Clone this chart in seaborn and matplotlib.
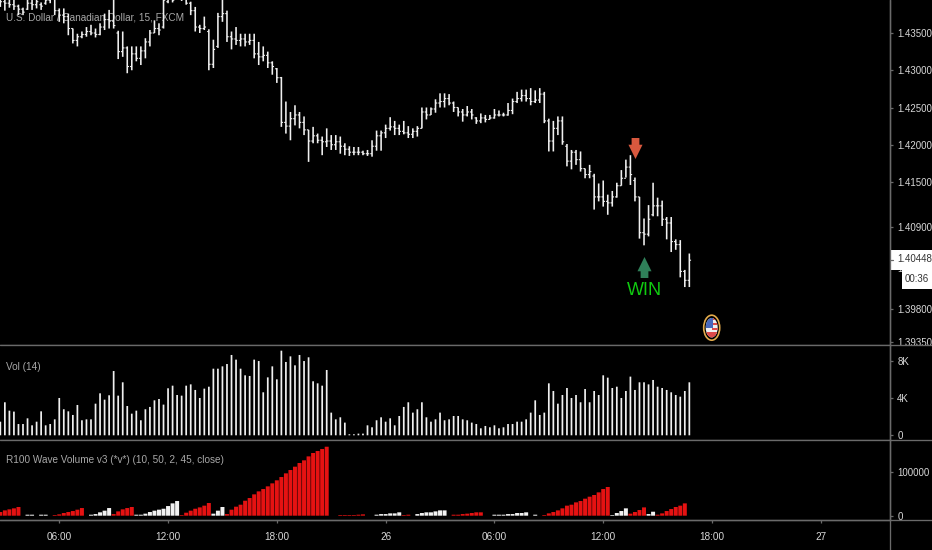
import numpy as np
import pandas as pd
import matplotlib
matplotlib.use("Agg")
import matplotlib.pyplot as plt
from matplotlib.patches import Ellipse, Rectangle
import seaborn as sns

# 15 min bars, clipped highs at the top of the picture are given as 1.4400
high = [1.4400,1.4400,1.4400,1.4400,1.4388,1.4384,1.4400,1.4400,1.4400,1.4391,1.4400,1.4400,1.4400,1.4383,1.4383,1.4376,1.4356,1.4349,1.4352,1.4358,
        1.4361,1.4356,1.4363,1.4376,1.4381,1.4400,1.4353,1.4352,1.4332,1.4332,1.4332,1.4332,1.4343,1.4354,1.4367,1.4363,1.4400,1.4400,1.4400,1.4400,
        1.4400,1.4400,1.4392,1.4385,1.4361,1.4372,1.4355,1.4341,1.4377,1.4400,1.4380,1.4352,1.4358,1.4349,1.4349,1.4349,1.4349,1.4338,1.4332,1.4325,
        1.4312,1.4303,1.4291,1.4258,1.4244,1.4253,1.4244,1.4238,1.4220,1.4224,1.4215,1.4211,1.4222,1.4213,1.4213,1.4211,1.4202,1.4198,1.4197,1.4197,
        1.4192,1.4193,1.4206,1.4219,1.4219,1.4227,1.4237,1.4232,1.4227,1.4232,1.4225,1.4222,1.4225,1.4250,1.4250,1.4250,1.4261,1.4269,1.4269,1.4268,
        1.4258,1.4250,1.4248,1.4252,1.4248,1.4237,1.4242,1.4240,1.4240,1.4248,1.4246,1.4243,1.4256,1.4262,1.4271,1.4274,1.4274,1.4276,1.4273,1.4276,
        1.4271,1.4235,1.4232,1.4238,1.4238,1.4201,1.4193,1.4193,1.4191,1.4168,1.4173,1.4161,1.4148,1.4152,1.4133,1.4138,1.4149,1.4166,1.4180,1.4186,
        1.4156,1.4130,1.4101,1.4119,1.4149,1.4129,1.4125,1.4103,1.4103,1.4073,1.4072,1.4032,1.4054]
low = [1.4385,1.4380,1.4384,1.4381,1.4374,1.4374,1.4381,1.4381,1.4383,1.4381,1.4388,1.4390,1.4374,1.4365,1.4363,1.4347,1.4336,1.4332,1.4343,1.4345,
       1.4347,1.4344,1.4347,1.4354,1.4356,1.4356,1.4315,1.4318,1.4296,1.4300,1.4312,1.4307,1.4316,1.4332,1.4350,1.4347,1.4356,1.4390,1.4391,1.4396,
       1.4393,1.4388,1.4374,1.4352,1.4350,1.4354,1.4300,1.4303,1.4330,1.4365,1.4338,1.4328,1.4334,1.4332,1.4332,1.4334,1.4316,1.4307,1.4312,1.4303,
       1.4294,1.4283,1.4224,1.4215,1.4206,1.4226,1.4222,1.4213,1.4177,1.4202,1.4202,1.4186,1.4197,1.4193,1.4193,1.4188,1.4186,1.4185,1.4186,1.4186,
       1.4186,1.4185,1.4184,1.4192,1.4192,1.4209,1.4219,1.4213,1.4213,1.4214,1.4209,1.4209,1.4211,1.4222,1.4234,1.4240,1.4243,1.4250,1.4250,1.4253,
       1.4244,1.4238,1.4231,1.4238,1.4234,1.4228,1.4229,1.4230,1.4234,1.4235,1.4238,1.4238,1.4239,1.4241,1.4256,1.4258,1.4258,1.4253,1.4256,1.4256,
       1.4229,1.4191,1.4191,1.4213,1.4200,1.4171,1.4167,1.4173,1.4164,1.4155,1.4155,1.4113,1.4124,1.4117,1.4106,1.4117,1.4129,1.4145,1.4156,1.4146,
       1.4124,1.4074,1.4065,1.4077,1.4104,1.4104,1.4091,1.4073,1.4056,1.4059,1.4022,1.4009,1.4009]
close = [1.4392,1.4390,1.4388,1.4386,1.4382,1.4378,1.4390,1.4388,1.4392,1.4386,1.4394,1.4396,1.4380,1.4374,1.4372,1.4356,1.4340,1.4345,1.4348,1.4352,
         1.4350,1.4348,1.4358,1.4368,1.4366,1.4360,1.4325,1.4330,1.4305,1.4322,1.4316,1.4326,1.4338,1.4350,1.4356,1.4354,1.4394,1.4396,1.4394,1.4398,
         1.4396,1.4390,1.4380,1.4358,1.4356,1.4358,1.4308,1.4328,1.4372,1.4376,1.4345,1.4342,1.4340,1.4342,1.4338,1.4340,1.4322,1.4318,1.4320,1.4310,
         1.4305,1.4290,1.4230,1.4225,1.4235,1.4240,1.4230,1.4220,1.4205,1.4212,1.4206,1.4204,1.4205,1.4200,1.4204,1.4198,1.4194,1.4190,1.4190,1.4190,
         1.4188,1.4188,1.4198,1.4212,1.4216,1.4222,1.4224,1.4222,1.4218,1.4216,1.4214,1.4218,1.4222,1.4244,1.4240,1.4248,1.4256,1.4258,1.4262,1.4256,
         1.4250,1.4244,1.4240,1.4244,1.4240,1.4232,1.4236,1.4234,1.4236,1.4240,1.4240,1.4240,1.4246,1.4258,1.4262,1.4266,1.4262,1.4258,1.4260,1.4268,
         1.4232,1.4205,1.4222,1.4232,1.4204,1.4178,1.4190,1.4180,1.4168,1.4160,1.4164,1.4130,1.4130,1.4124,1.4122,1.4130,1.4145,1.4155,1.4170,1.4160,
         1.4130,1.4082,1.4080,1.4100,1.4118,1.4118,1.4100,1.4095,1.4070,1.4066,1.4030,1.4018,1.4045]
opens = [1.4390,1.4392,1.4390,1.4388,1.4386,1.4382,1.4382,1.4390,1.4388,1.4388,1.4390,1.4394,1.4396,1.4380,1.4374,1.4372,1.4356,1.4340,1.4345,1.4348,
         1.4352,1.4350,1.4348,1.4358,1.4368,1.4366,1.4350,1.4325,1.4330,1.4305,1.4322,1.4316,1.4326,1.4338,1.4350,1.4356,1.4358,1.4392,1.4396,1.4397,
         1.4398,1.4396,1.4390,1.4380,1.4358,1.4356,1.4352,1.4308,1.4332,1.4372,1.4376,1.4345,1.4342,1.4340,1.4342,1.4338,1.4340,1.4322,1.4318,1.4320,
         1.4310,1.4302,1.4290,1.4230,1.4225,1.4235,1.4240,1.4230,1.4220,1.4205,1.4212,1.4206,1.4204,1.4205,1.4200,1.4204,1.4198,1.4194,1.4190,1.4190,
         1.4190,1.4188,1.4188,1.4198,1.4212,1.4216,1.4222,1.4224,1.4222,1.4218,1.4216,1.4214,1.4218,1.4222,1.4244,1.4240,1.4248,1.4256,1.4258,1.4262,
         1.4256,1.4250,1.4244,1.4240,1.4244,1.4236,1.4232,1.4236,1.4234,1.4236,1.4240,1.4240,1.4240,1.4246,1.4258,1.4262,1.4266,1.4262,1.4258,1.4260,
         1.4268,1.4232,1.4205,1.4222,1.4232,1.4198,1.4178,1.4190,1.4180,1.4168,1.4160,1.4158,1.4130,1.4130,1.4124,1.4122,1.4130,1.4145,1.4155,1.4170,
         1.4152,1.4130,1.4082,1.4080,1.4106,1.4118,1.4118,1.4100,1.4095,1.4070,1.4066,1.4030,1.4018]

# volume in thousands
volume = [1.46,3.54,2.64,2.54,1.21,1.21,1.82,1.07,1.46,2.57,1.07,1.21,1.71,4.0,2.79,2.57,2.18,3.25,1.61,1.71,
          1.71,3.39,4.5,3.82,4.29,6.89,4.25,5.68,3.14,2.32,2.64,1.61,2.79,3.04,3.75,3.89,3.29,5.04,5.32,4.32,
          4.25,5.32,5.46,4.86,4.0,5.0,5.21,7.14,7.14,7.39,7.64,8.61,8.11,7.14,6.43,6.36,8.11,7.96,4.61,6.21,
          7.39,6.0,9.07,7.86,8.46,7.5,8.61,7.96,8.36,5.79,5.57,5.32,7.0,2.43,1.71,1.93,1.36,0.11,
          0.11,0.18,0.18,1.07,0.86,1.61,1.93,1.46,1.82,1.07,2.07,3.04,3.54,2.43,2.79,3.54,1.93,1.46,1.71,2.43,
          1.61,1.71,2.07,2.07,1.71,1.61,1.36,1.21,0.75,1.0,0.86,1.07,0.75,0.86,1.21,1.21,1.46,1.46,1.71,2.43,
          3.75,2.18,2.43,5.57,4.75,3.39,4.32,5.07,4.0,4.32,3.54,4.96,3.54,4.75,4.32,6.43,6.18,5.07,5.21,4.0,
          4.75,6.29,4.86,5.68,5.68,5.46,5.93,5.21,5.07,4.86,4.61,4.32,4.14,4.75,5.68]

# wave volume in thousands, negative = down wave (red)
wave = [-8.5,-12.3,-14.7,-17.0,-20.1,0,2.3,2.3,0,2.3,2.3,0,-1.6,-3.1,-6.2,-8.5,-10.8,-13.9,-17.7,0,
        2.3,3.8,7.8,11.6,17.7,-3.8,-10.0,-14.7,-17.7,-20.1,2.3,2.3,4.7,8.5,11.6,13.9,16.1,22.3,28.5,33.9,
        -1.6,-6.9,-11.6,-16.1,-19.2,-23.2,-29.3,4.7,11.6,20.1,-3.8,-13.9,-20.8,-25.4,-34.6,-40.8,-49.3,-56.2,-61.6,-67.8,
        -74.7,-81.7,-89.3,-97.8,-105.5,-113.2,-121.7,-127.9,-137.0,-144.8,-149.4,-154.0,-159.3,0,0,-1.6,-1.6,-1.6,
        -1.6,-2.3,-3.1,0,0,2.3,3.8,3.8,5.4,5.4,7.8,-1.6,-2.3,0,3.8,6.2,7.8,7.8,10.0,12.3,12.3,0,
        -2.3,-2.3,-3.8,-4.7,-6.2,-7.8,-7.8,0,0,2.3,2.3,2.3,3.8,3.8,6.2,6.2,7.8,0,2.3,0,
        -1.6,-5.4,-8.5,-12.3,-17.0,-23.2,-25.4,-30.8,-33.9,-39.3,-43.9,-47.8,-53.9,-61.6,-66.3,1.6,6.2,10.8,17.0,-4.7,
        -8.5,-13.1,-19.2,3.8,9.2,-2.3,-5.4,-10.8,-15.4,-20.1,-23.2,-28.5,0]

price_ticks = [1.435, 1.430, 1.425, 1.420, 1.415, 1.409, 1.4035, 1.398, 1.3935]
time_ticks = [13, 37, 61, 85, 109, 133, 157, 181]
time_labels = ["06:00", "12:00", "18:00", "26", "06:00", "12:00", "18:00", "27"]
last_price = "1.40448"
countdown = "00:36"

W, H = 932, 550
LINE = "#6a6a6a"
TEXT = "#d8d8d8"
LEGEND = "#a8a8a8"
BAR = "#f0f0f0"

sns.set_theme(style="dark", rc={"figure.facecolor": "black", "axes.facecolor": "black",
                                "axes.edgecolor": LINE, "axes.linewidth": 1.0,
                                "xtick.color": LINE, "ytick.color": LINE,
                                "xtick.bottom": True, "ytick.right": True, "ytick.left": False})
plt.rcParams["font.family"] = ["Liberation Sans"]


def panel(top, bottom):
    # axes from pixel rows of the picture
    return fig.add_axes([0, 1 - bottom / H, 890 / W, (bottom - top) / H])


fig = plt.figure(figsize=(W / 100, H / 100), dpi=100)
ax_price = panel(0, 344.5)
ax_vol = panel(344.5, 439.7)
ax_wave = panel(439.7, 520)

bars = np.arange(len(close))
stems = ax_price.vlines(bars, low, high, color=BAR, lw=1.15, zorder=3)
left = ax_price.hlines(opens, bars - 0.38, bars, color=BAR, lw=0.8, zorder=3)
right = ax_price.hlines(close, bars, bars + 0.38, color=BAR, lw=0.8, zorder=3)
for c in (stems, left, right):
    c.set_snap(False)

# signal arrows
arrow = [(-0.37, 1), (0.37, 1), (0.37, 0.36), (0.67, 0.36), (0, -1), (-0.67, 0.36), (-0.37, 0.36)]
arrow_up = [(x, -y) for x, y in arrow]
ax_price.scatter([140], [1.4196], marker=arrow, s=229, color="#d8583e", linewidths=0, zorder=4)
ax_price.scatter([142], [1.4036], marker=arrow_up, s=229, color="#2f8059", linewidths=0, zorder=4)
ax_price.text(142, 1.4004, "WIN", color="#10cc10", fontsize=13, ha="center", va="center", zorder=4)
ax_price.text(0.0065, 0.948, "U.S. Dollar / Canadian Dollar, 15, FXCM", color=LEGEND, fontsize=7.2,
              va="center", transform=ax_price.transAxes, zorder=1)

sns.barplot(x=bars, y=volume, native_scale=True, width=0.38, color=BAR, saturation=1, linewidth=0, ax=ax_vol)
ax_vol.text(0.0065, 0.765, "Vol (14)", color=LEGEND, fontsize=7.2, va="center", transform=ax_vol.transAxes)

wave_df = pd.DataFrame({"bar": bars, "size": np.abs(wave),
                        "side": ["down" if v < 0 else "up" for v in wave]})
sns.barplot(data=wave_df, x="bar", y="size", hue="side", dodge=False, native_scale=True, width=0.88,
            palette={"down": "#e51212", "up": "#f2f2f2"}, saturation=1, linewidth=0, legend=False, ax=ax_wave)
ax_wave.text(0.0065, 0.75, "R100 Wave Volume v3 (*v*) (10, 50, 2, 45, close)", color=LEGEND, fontsize=7.2,
             va="center", transform=ax_wave.transAxes)

x_left = -0.33 / 4.533
x_right = (890 - 0.33) / 4.533
for ax in (ax_price, ax_vol, ax_wave):
    for p in ax.patches:
        p.set_snap(False)
    ax.set_xlim(x_left, x_right)
    ax.set_xlabel("")
    ax.set_ylabel("")
    ax.grid(False)
    ax.spines["left"].set_visible(False)
    ax.spines["top"].set_visible(False)
    ax.yaxis.tick_right()
    ax.tick_params(axis="y", length=2.2, width=0.9, color=LINE, labelcolor=TEXT, labelsize=7, pad=3)
    ax.tick_params(axis="x", bottom=False, labelbottom=False)

ax_price.set_ylim(1.435 - (344.5 - 33) / 7450, 1.435 + 33 / 7450)
ax_price.set_yticks(price_ticks)
ax_price.set_yticklabels([f"{t:.5f}" for t in price_ticks])
# the lowest price label is cut by the panel edge
for lab in ax_price.get_yticklabels():
    lab.set_clip_on(True)
    lab.set_clip_path(Rectangle((880, H - 344.5), 60, 344.5, transform=None))

ax_vol.set_ylim(-4.4 / 9.33, (435.3 - 344.5) / 9.33)
ax_vol.set_yticks([0, 4, 8])
ax_vol.set_yticklabels(["0", "4K", "8K"])

ax_wave.set_ylim(-4.3 / 0.433, (515.7 - 439.7) / 0.433)
ax_wave.set_yticks([0, 100])
ax_wave.set_yticklabels(["0", "100000"])
ax_wave.tick_params(axis="x", bottom=True, labelbottom=True, length=2.2, width=0.9, color=LINE,
                    labelcolor=TEXT, labelsize=7.2, pad=6.5)
ax_wave.set_xticks(time_ticks)
ax_wave.set_xticklabels(time_labels)
ax_wave.set_xlim(x_left, x_right)

# separators, price boxes and news flag on top, in picture pixels
over = fig.add_axes([0, 0, 1, 1], facecolor="none")
over.set_xlim(0, W)
over.set_ylim(H, 0)
over.axis("off")
for y in (344.5, 439.7, 520):
    over.plot([0, W], [y, y], color=LINE, lw=0.95)
over.plot([890, 890], [0, H], color=LINE, lw=0.95)
over.add_patch(Rectangle((890, 250), 42, 19.5, color="white", lw=0))
over.add_patch(Rectangle((902, 269), 30, 20, color="white", lw=0))
over.plot([890, 893], [259.5, 259.5], color=LINE, lw=0.9)
over.text(897, 259.5, last_price, color="#333333", fontsize=7, va="center")
over.text(905, 279.5, countdown, color="#333333", fontsize=7, va="center")

fx, fy = 711.7, 327.7
over.add_patch(Ellipse((fx, fy), 16, 25, fc="black", ec="#e3ab4c", lw=1.2))
disc = Ellipse((fx, fy), 12, 19.5, fc="#f0f0f0", ec="none")
over.add_patch(disc)
for y0, h, x0, col in [(-10, 2.5, 0, "#dd4a4a"), (-5, 2.5, 0, "#dd4a4a"), (0, 2.5, 0, "#dd4a4a"),
                       (4, 6, -6, "#dd4a4a"), (-10, 10.5, -6, "#4668bd")]:
    r = Rectangle((fx + x0, fy + y0), 12 if x0 < 0 and h < 10 else (7 if x0 < 0 else 6), h, color=col, lw=0)
    over.add_patch(r)
    r.set_clip_path(disc)

fig.savefig("out.png", dpi=100, facecolor="black")
